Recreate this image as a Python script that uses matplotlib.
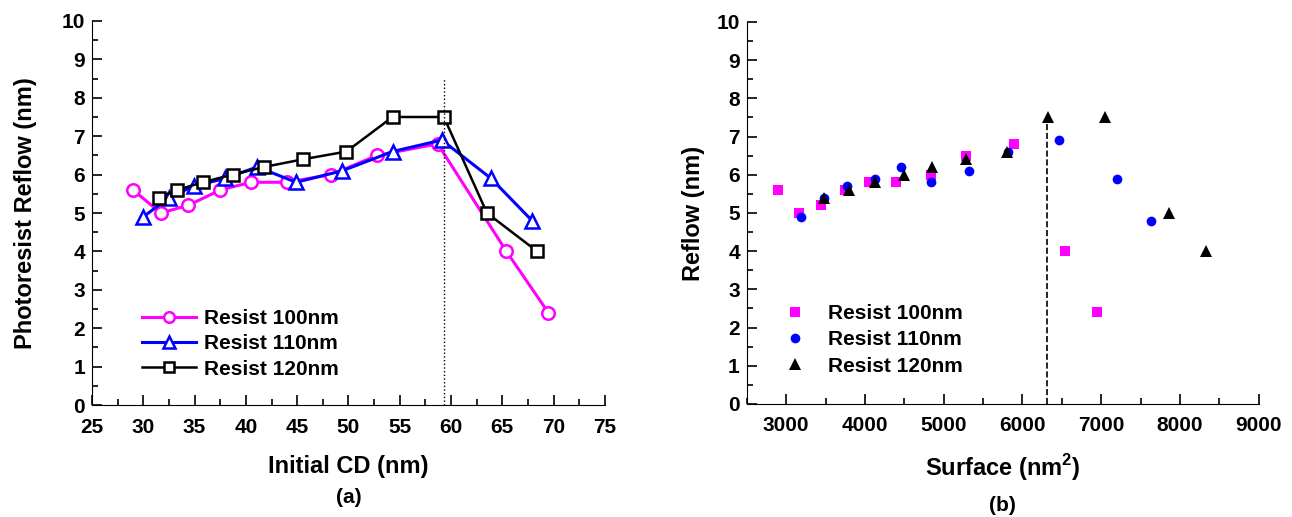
import numpy as np
import matplotlib
matplotlib.use("Agg")
import matplotlib.pyplot as plt
from matplotlib.ticker import MultipleLocator

plt.rcParams['font.family'] = ['Liberation Sans', 'DejaVu Sans']
plt.rcParams['font.weight'] = 'bold'
plt.rcParams['mathtext.fontset'] = 'custom'
plt.rcParams['mathtext.bf'] = 'Liberation Sans:bold'
plt.rcParams['mathtext.rm'] = 'Liberation Sans:bold'

# --- (a) Photoresist reflow vs initial CD ---
cd_100 = [29.0, 31.7, 34.4, 37.5, 40.5, 44.0, 48.3, 52.8, 58.7, 65.4, 69.5]
rf_100 = [5.6, 5.0, 5.2, 5.6, 5.8, 5.8, 6.0, 6.5, 6.8, 4.0, 2.4]
cd_110 = [30.0, 32.5, 34.9, 38.0, 41.1, 44.9, 49.4, 54.3, 59.1, 63.9, 67.9]
rf_110 = [4.9, 5.4, 5.7, 5.9, 6.2, 5.8, 6.1, 6.6, 6.9, 5.9, 4.8]
cd_120 = [31.5, 33.3, 35.8, 38.7, 41.8, 45.6, 49.8, 54.3, 59.3, 63.5, 68.4]
rf_120 = [5.4, 5.6, 5.8, 6.0, 6.2, 6.4, 6.6, 7.5, 7.5, 5.0, 4.0]
cd_limite = 59.3

# --- (b) Reflow vs surface ---
surf_100 = [2894, 3157, 3438, 3745, 4051, 4400, 4834, 5285, 5889, 6545, 6942]
surf_110 = [3183, 3485, 3774, 4123, 4455, 4838, 5315, 5813, 6465, 7200, 7635]
surf_120 = [3481, 3804, 4128, 4502, 4851, 5285, 5804, 6330, 7049, 7855, 8332]
surf_limite = 6313

etiquetas = ["Resist 100nm", "Resist 110nm", "Resist 120nm"]
colores = ["#ff00ff", "#0000ff", "black"]

fig = plt.figure(figsize=(12.92, 5.17), dpi=100)
ax1 = fig.add_axes([0.0712, 0.2166, 0.397, 0.7428])
ax2 = fig.add_axes([0.578, 0.2186, 0.3963, 0.7389])

# panel (a)
ax1.plot(cd_100, rf_100, '-o', color=colores[0], mfc='white', ms=9, mew=1.8, lw=2.2, label=etiquetas[0])
ax1.plot(cd_110, rf_110, '-^', color=colores[1], mfc='white', ms=10, mew=1.8, lw=2.2, label=etiquetas[1])
ax1.plot(cd_120, rf_120, '-s', color=colores[2], mfc='white', ms=8, mew=1.8, lw=1.8, label=etiquetas[2])
ax1.plot([cd_limite, cd_limite], [0, 8.5], ':', color='black', lw=1)
ax1.set_xlim(25, 75)
ax1.set_ylim(0, 10)
ax1.xaxis.set_major_locator(MultipleLocator(5))
ax1.xaxis.set_minor_locator(MultipleLocator(2.5))
ax1.set_xlabel("Initial CD (nm)", fontsize=17, fontweight='bold', labelpad=13)
ax1.set_ylabel("Photoresist Reflow (nm)", fontsize=17, fontweight='bold', labelpad=18)
ax1.legend(loc='lower left', bbox_to_anchor=(0.06, 0.02), frameon=False, fontsize=15,
           handlelength=2.6, handletextpad=0.4, labelspacing=0.3, markerscale=0.85)
ax1.text(0.5, -0.215, "(a)", transform=ax1.transAxes, ha='center', va='top', fontsize=15, fontweight='bold')

# panel (b)
ax2.plot(surf_100, rf_100, 's', color=colores[0], ms=6.5, mew=0, label=etiquetas[0])
ax2.plot(surf_110, rf_110, 'o', color=colores[1], ms=7, mew=0, label=etiquetas[1])
ax2.plot(surf_120, rf_120, '^', color=colores[2], ms=8, mew=0, label=etiquetas[2])
ax2.plot([surf_limite, surf_limite], [0, 7.5], '--', color='black', lw=1.2)
ax2.set_xlim(2500, 9000)
ax2.set_ylim(0, 10)
ax2.xaxis.set_major_locator(MultipleLocator(1000))
ax2.xaxis.set_minor_locator(MultipleLocator(500))
ax2.set_xlabel("Surface (nm$^\\mathbf{2}$)", fontsize=17, fontweight='bold', labelpad=12)
ax2.set_ylabel("Reflow (nm)", fontsize=17, fontweight='bold', labelpad=8)
ax2.legend(loc='lower left', bbox_to_anchor=(0.028, 0.025), frameon=False, fontsize=15,
           handlelength=1.5, handletextpad=0.8, labelspacing=0.35)
ax2.text(0.5, -0.24, "(b)", transform=ax2.transAxes, ha='center', va='top', fontsize=15, fontweight='bold')

for ax in (ax1, ax2):
    ax.spines['top'].set_visible(False)
    ax.spines['right'].set_visible(False)
    ax.yaxis.set_major_locator(MultipleLocator(1))
    ax.yaxis.set_minor_locator(MultipleLocator(0.5))
    ax.tick_params(which='both', direction='in', labelsize=15, width=1.2)
    ax.tick_params(which='major', length=7, pad=5)
    ax.tick_params(which='minor', length=4)
    ax.tick_params(axis='x', which='major', pad=9)
    for lab in ax.get_xticklabels() + ax.get_yticklabels():
        lab.set_fontweight('bold')

fig.savefig("out.png", dpi=100)
